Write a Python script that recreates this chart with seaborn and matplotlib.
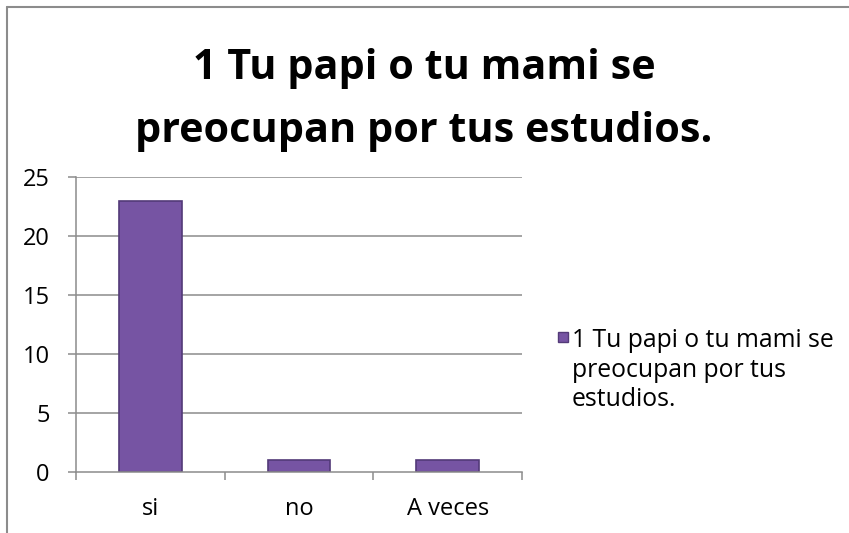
import matplotlib
matplotlib.use("Agg")
import matplotlib.pyplot as plt
import pandas as pd
import seaborn as sns
from matplotlib.lines import Line2D
from matplotlib.patches import Rectangle

# data
categories = ["si", "no", "A veces"]
values = [23, 1, 1]
legend_label = "1 Tu papi o tu mami se\npreocupan por tus\nestudios."
title_text = "1 Tu papi o tu mami se\npreocupan por tus estudios."

bar_color = "#7654A3"
edge_color = "#533a78"
grid_color = "#8C8C8C"

df = pd.DataFrame({"respuesta": categories, "cantidad": values})

sns.set_style("white")
plt.rcParams["font.family"] = ["Open Sans", "DejaVu Sans"]
plt.rcParams["text.color"] = "black"

fig = plt.figure(figsize=(8.49, 5.33), dpi=100)
ax = fig.add_axes([76 / 849, 1 - 472 / 533, (522 - 76) / 849, (472 - 177) / 533])

sns.barplot(data=df, x="respuesta", y="cantidad", color=bar_color,
            width=0.42, ax=ax, edgecolor=edge_color, linewidth=1.2,
            saturation=1)

ax.set_ylim(0, 25)
ax.set_yticks([0, 5, 10, 15, 20, 25])
ax.set_xlim(-0.5, 2.5)
ax.set_xlabel("")
ax.set_ylabel("")

# gridlines
for y in [5, 10, 15, 20, 25]:
    ax.axhline(y, color=grid_color, lw=1.1, zorder=0)
ax.set_axisbelow(True)

for side in ["top", "right"]:
    ax.spines[side].set_visible(False)
for side in ["left", "bottom"]:
    ax.spines[side].set_color(grid_color)
    ax.spines[side].set_linewidth(1.1)

# y ticks outward, x ticks at category boundaries
ax.tick_params(axis="y", direction="out", length=6, width=1.1, color=grid_color,
               left=True, labelsize=17, pad=13, labelcolor="black")
ax.tick_params(axis="x", length=0, labelsize=17, pad=18, labelcolor="black")
ax.set_xticks([0, 1, 2])
ax.set_xticklabels(categories)
ax.set_xticks([-0.5, 0.5, 1.5, 2.5], minor=True)
ax.tick_params(axis="x", which="minor", direction="out", length=6, width=1.1,
               color=grid_color, bottom=True)

# title
fig.text(0.4995, 1 - 100 / 533, title_text, ha="center", va="center",
         fontsize=29.8, fontweight="bold", linespacing=1.68, color="black")

# legend (square + wrapped label, square aligned with first line)
fig.add_artist(Rectangle((558 / 849, 1 - 342 / 533), 10 / 849, 10 / 533,
                         facecolor=bar_color, edgecolor=edge_color, lw=1,
                         transform=fig.transFigure))
fig.text(572 / 849, 1 - 328 / 533, legend_label, ha="left", va="top",
         fontsize=17.8, linespacing=1.25, color="black")

# chart border (top and left)
fig.add_artist(Line2D([6.5 / 849, 1], [1 - 6.5 / 533, 1 - 6.5 / 533],
                      color="#8C8C8C", lw=1.5, transform=fig.transFigure))
fig.add_artist(Line2D([6.5 / 849, 6.5 / 849], [0, 1 - 6.5 / 533],
                      color="#8C8C8C", lw=1.5, transform=fig.transFigure))

fig.savefig("out.png", dpi=100)
